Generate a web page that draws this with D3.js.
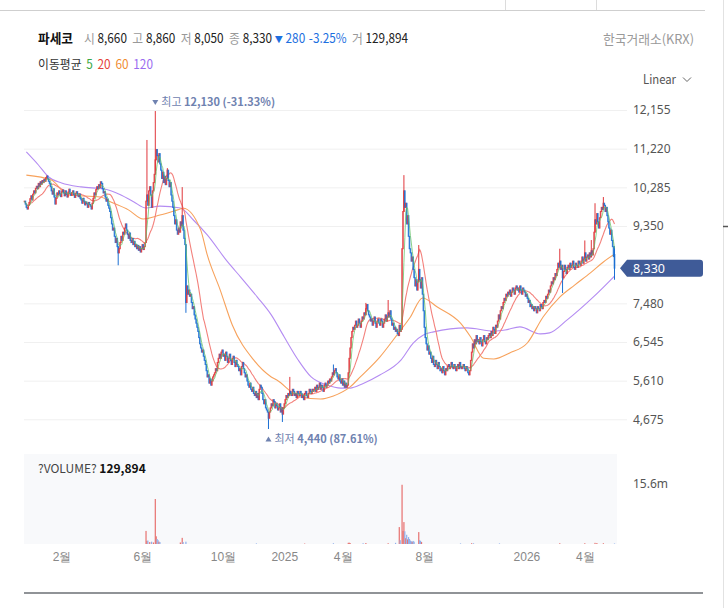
<!DOCTYPE html>
<html>
<head>
<meta charset="utf-8">
<script src="https://cdn.jsdelivr.net/npm/d3@7"></script>
<style>
  body { margin: 0; background: #fff; }
  svg { font-family: "Noto Sans CJK KR", "Noto Sans", sans-serif; }
</style>
</head>
<body>
<svg id="chart" width="728" height="608"></svg>
<script>
// daily closes, oldest first, last bar = 2026-05-15
var closes = [
  9950, 9880, 9800, 9760, 9850, 9920, 10010,
  10080, 9980, 10120, 10200, 10150, 10260, 10310, 10250,
  10380, 10300, 10420, 10360, 10450, 10400, 10480, 10430, 10520,
  10560, 10490, 10430, 10380, 10300,
  10200, 10120, 10250, 10050, 9880,
  10020, 10150, 10100, 10200, 10130, 10060, 10180, 10220,
  10150, 10080, 10200, 10120, 10050, 10170, 10240, 10130, 10090, 10160, 10200, 10110, 10040, 10130, 10180, 10100, 10060, 10120, 10020,
  9980, 9900, 10020, 9950, 9860, 9930, 9890, 9800, 9920, 9870, 9830, 9760, 9900,
  10020, 10150, 10100, 10230, 10300, 10250, 10350, 10280, 10420, 10380,
  10250, 10150, 10180, 10050, 9950, 10000, 9850, 9780, 9700,
  9550, 9400, 9250, 9300, 9100, 8950, 9050, 8850, 8700,
  8800, 8950, 9100, 9000, 9200, 9150, 9300, 9400,
  9250, 9150, 9050, 9180, 9000, 8950, 9050, 8900, 8980, 8850, 8900,
  8800, 8880, 8760, 8850, 8720, 8800, 8900, 8780, 8850, 8950,
  9950, 10100, 9850, 10200, 10300, 10100, 9800, 10200, 10400, 10600, 10950,
  11200, 11050, 10900, 11100, 10850,
  10700, 10500, 10650, 10400, 10550, 10350,
  10500, 10700, 10450, 10300, 10400,
  10100, 9950, 9800,
  9600, 9400, 9500, 9250, 9150, 9300,
  9200, 9450, 9350, 9600, 9250,
  9050, 8900,
  7500, 7900, 7700, 7800, 7650, 7700,
  7500, 7350, 7400, 7200, 7100, 7000, 6900, 6800,
  6650, 6500, 6400, 6300, 6350, 6200, 6100, 6000,
  5850, 5700, 5750, 5550, 5650, 5500, 5600,
  5700, 5750, 5800, 5900, 5850, 6050, 6150,
  6250, 6150, 6300, 6350, 6200,
  6250, 6100, 6300, 6200, 6050, 6150, 6250, 6100, 6000, 6150, 6200, 6050, 5950, 6100, 6000,
  5950, 5850, 5900, 5750, 5950, 6050, 5900, 5800, 5700, 5750, 5600,
  5500, 5450, 5550, 5400, 5350, 5450, 5300,
  5250, 5350, 5200, 5300, 5150, 5400, 5500,
  5450, 5300, 5150, 5050, 5150, 4950, 4900, 4850,
  4700, 4850, 4950,
  5050, 5000, 5150, 5100, 4950, 5050, 5000,
  4900, 4950, 5050, 4850, 4950, 4800, 4950,
  5050, 5150, 5250, 5200, 5300, 5250, 5350,
  5300, 5250, 5400, 5350, 5250, 5300, 5200, 5350, 5300, 5250, 5350,
  5300, 5200, 5250, 5150, 5300, 5350, 5250, 5200, 5300, 5400, 5350, 5300, 5400, 5350,
  5400, 5450, 5350, 5500, 5400, 5450, 5550, 5400, 5500, 5450, 5350, 5500, 5550, 5450, 5500,
  5600, 5550, 5650, 5600,
  5700, 5800, 5750, 5850, 5900, 5800, 5700,
  5650, 5750, 5600, 5550, 5650, 5500, 5600, 5450, 5550, 5450, 5500,
  5800, 6150, 6400, 6650, 6800, 6900,
  6850, 6950, 7050, 6900, 6950, 7100, 7000, 6900, 7050, 7150, 7100,
  7250, 7200, 7350, 7450, 7300, 7200, 7150, 7050,
  7100, 6950, 7050, 7150, 7000, 6900, 7050, 7100, 7000, 6950, 7100, 7050, 6900, 7000,
  7100, 7200, 7050, 7150, 7250, 7150, 7300, 7100, 6950, 7000, 6850, 6900, 6800, 6850,
  6750, 6700, 6950, 6800, 6850,
  8800, 9700, 10200, 9800, 9900, 9400, 9600, 9100, 8800,
  8700, 8500, 8600, 8300,
  8100, 7900, 8050, 7800, 8000,
  8300, 8050, 7850, 8100, 7700,
  7300, 6900, 6650,
  6500, 6350, 6450, 6250, 6300,
  6150, 6050, 6200, 6000, 5950, 6100, 6000, 5900, 6050, 5950, 5850,
  5900, 5800, 5950, 5850, 5750, 5900, 5850, 5950,
  6000, 5900, 5950, 6050, 5950, 5900, 6000, 5950, 5850, 5950, 6000, 5900, 6050, 5950, 5900, 5950, 6000, 5900, 5850, 5950, 5900, 5800, 5750, 5850,
  6100, 6300, 6500, 6400, 6600, 6500, 6700, 6550,
  6600, 6500, 6650, 6550, 6450, 6600, 6700, 6550, 6500, 6650, 6600, 6700, 6750, 6650,
  6800, 6700, 6900, 6850, 6750, 6950, 6900,
  7050, 7200, 7100, 7300, 7400, 7350, 7500, 7600, 7550, 7700, 7650,
  7750, 7700, 7800, 7650, 7750, 7850, 7800, 7700, 7850, 7900, 7800,
  7850, 7750, 7900, 7800, 7700, 7850, 7800, 7750, 7650, 7700, 7600,
  7500, 7550, 7400, 7450, 7350, 7400,
  7300, 7400, 7350, 7250, 7400, 7350, 7300, 7450, 7400, 7350, 7500,
  7550, 7500, 7650, 7600, 7700, 7800, 7750, 7900,
  8000, 7950, 8100, 8050, 8200, 8150, 8300,
  8450, 8350, 8500, 8300, 8400, 8100,
  8250, 8400, 8300, 8200, 8350,
  8400, 8300, 8450, 8350, 8400, 8500, 8350, 8300, 8450, 8400, 8350, 8500, 8450, 8400,
  8500, 8600, 8450, 8550, 8700, 8500, 8600, 8650, 8550, 8700, 8600, 8750, 8650, 8800,
  9200, 9500, 9400, 9650,
  9450, 9300, 9550,
  9700, 9800, 9750, 9900, 9850, 9700, 9800, 9600, 9450,
  9300, 9150, 9250, 9000,
  8850, 8610,
  8330
];

// wick extremes that stick out of the bodies: [bar index, price]
var highMarks = [[132, 11430], [141, 12130], [154, 10750], [170, 10290], [286, 5700], [333, 6000],
  [368, 7490], [392, 7560], [409, 10580], [425, 8890], [577, 8800], [604, 9000], [611, 9010],
  [615, 9900], [624, 10050], [636, 8860]];
var lowMarks = [[101, 8400], [174, 7250], [263, 4440], [278, 4610], [580, 7730], [636, 8050]];
var openMarks = [[636, 8660]];

// traded volume on days where a bar is visible: [bar index, shares]
var volumes = [[131, 3.4e6], [132, 0.8e6], [133, 0.9e6], [135, 0.5e6], [137, 0.6e6], [139, 0.4e6],
  [141, 11.7e6], [142, 2.0e6], [143, 1.3e6], [144, 1.0e6], [145, 0.6e6], [146, 0.5e6],
  [168, 0.4e6], [170, 1.6e6], [171, 0.5e6], [174, 0.6e6], [250, 0.15e6], [302, 0.12e6],
  [333, 0.2e6], [349, 0.3e6], [350, 0.35e6], [351, 0.25e6], [365, 0.2e6], [368, 0.25e6],
  [392, 0.2e6], [400, 0.3e6], [404, 4.4e6], [405, 1.0e6], [407, 15.4e6], [408, 3.4e6],
  [409, 5.7e6], [410, 3.3e6], [411, 1.5e6], [412, 2.4e6], [413, 1.2e6], [414, 1.8e6],
  [415, 1.3e6], [416, 0.9e6], [417, 0.7e6], [418, 0.6e6], [419, 0.8e6], [420, 0.6e6],
  [425, 3.1e6], [426, 1.0e6], [427, 0.8e6], [428, 0.5e6], [470, 0.15e6], [482, 0.2e6],
  [484, 0.18e6], [512, 0.15e6], [577, 0.2e6], [604, 0.2e6], [615, 0.3e6], [617, 0.25e6],
  [624, 0.2e6], [636, 129894]];

// 60 / 120 day averages
var ma60Pts = [["2023-12-11", 10580], ["2024-01-17", 10460], ["2024-02-12", 10100], ["2024-04-01", 10050],
  ["2024-04-16", 9930], ["2024-05-13", 9740], ["2024-06-04", 9520], ["2024-06-28", 9615],
  ["2024-07-25", 9740], ["2024-08-02", 9780], ["2024-08-29", 9250], ["2024-09-09", 8650],
  ["2024-09-27", 7800], ["2024-10-16", 6955], ["2024-11-18", 6110], ["2024-12-13", 5700],
  ["2024-12-23", 5625], ["2025-01-27", 5215], ["2025-02-26", 5165], ["2025-03-18", 5240],
  ["2025-04-11", 5460], ["2025-04-28", 5700], ["2025-05-27", 6180], ["2025-06-24", 6760],
  ["2025-07-11", 7150], ["2025-07-30", 7610], ["2025-08-21", 7390], ["2025-09-25", 7000],
  ["2025-10-10", 6665], ["2025-10-30", 6150], ["2025-11-14", 6135], ["2025-12-09", 6280],
  ["2026-01-05", 6520], ["2026-01-28", 7150], ["2026-02-23", 7630], ["2026-03-17", 7920],
  ["2026-04-09", 8215], ["2026-04-29", 8480], ["2026-05-15", 8670]];
var ma120Pts = [["2023-12-11", 11140], ["2023-12-28", 10825], ["2024-01-12", 10535], ["2024-02-01", 10390],
  ["2024-03-01", 10295], ["2024-04-05", 10245], ["2024-05-01", 10100], ["2024-05-21", 9930],
  ["2024-06-07", 9785], ["2024-06-28", 9830], ["2024-07-30", 9785], ["2024-08-19", 9495],
  ["2024-09-09", 9135], ["2024-10-09", 8480], ["2024-10-29", 8115], ["2024-11-22", 7630],
  ["2024-12-13", 7200], ["2025-01-02", 6665], ["2025-01-23", 6110], ["2025-02-12", 5700],
  ["2025-03-07", 5505], ["2025-03-28", 5430], ["2025-04-11", 5430], ["2025-04-30", 5530],
  ["2025-05-27", 5745], ["2025-06-27", 6110], ["2025-07-16", 6520], ["2025-07-31", 6715],
  ["2025-08-15", 6790], ["2025-10-06", 6885], ["2025-11-14", 6810], ["2025-12-02", 6835],
  ["2025-12-24", 6910], ["2026-01-23", 6740], ["2026-02-06", 6765], ["2026-03-05", 7080],
  ["2026-04-14", 7630], ["2026-05-15", 8140]];

var yTicks = [12155, 11220, 10285, 9350, 8415, 7480, 6545, 5610, 4675];
var volTicks = [15.6e6];
var xTicks = [["2024-02-01", "2월"], ["2024-06-03", "6월"], ["2024-10-02", "10월"], ["2025-01-02", "2025"],
  ["2025-04-01", "4월"], ["2025-08-01", "8월"], ["2026-01-02", "2026"], ["2026-04-01", "4월"]];

var upColor = "#e0363b", downColor = "#1b6fd3";
var maColors = { 5: "#63c266", 20: "#f3817c", 60: "#f7a25c", 120: "#b48cf2" };
var legendColors = { 5: "#3aa845", 20: "#e5413a", 60: "#f08c32", 120: "#9a6cf0" };

// ---- trading days (weekdays ending at the last bar) ----
var parse = d3.timeParse("%Y-%m-%d");
var n = closes.length;
var dates = [];
var cur = new Date(2026, 4, 15);
while (dates.length < n) {
  var wd = cur.getDay();
  if (wd !== 0 && wd !== 6) dates.unshift(new Date(cur));
  cur.setDate(cur.getDate() - 1);
}
var dateNums = dates.map(Number);
function idxOf(s) {
  var i = d3.bisectLeft(dateNums, +parse(s));
  return Math.min(i, n - 1);
}

var opens = {}; openMarks.forEach(function(m) { opens[m[0]] = m[1]; });
var his = {}; highMarks.forEach(function(m) { his[m[0]] = m[1]; });
var los = {}; lowMarks.forEach(function(m) { los[m[0]] = m[1]; });

var bars = closes.map(function(c, i) {
  var o = opens[i] != null ? opens[i] : (i ? closes[i - 1] : c);
  return {
    i: i, open: o, close: c,
    high: Math.max(o, c, his[i] || 0),
    low: Math.min(o, c, los[i] || Infinity),
    up: c >= o
  };
});

function movingAvg(len) {
  return closes.map(function(c, i) {
    var s = Math.max(0, i - len + 1);
    return { i: i, v: d3.mean(closes.slice(s, i + 1)) };
  });
}
function pct(v) { return (v >= 0 ? "" : "-") + Math.abs(v * 100).toFixed(2) + "%"; }

// ---- scales ----
var x = d3.scaleLinear().domain([0, n - 1]).range([24.5, 614.5]);
var y = d3.scaleLinear().domain([4675, 12155]).range([419.3, 110]);
var yv = d3.scaleLinear().domain([0, 15.6e6]).range([544, 484]);

var svg = d3.select("#chart");

// page chrome
svg.append("line").attr("x1", 0).attr("x2", 705).attr("y1", 10.5).attr("y2", 10.5).attr("stroke", "#cfcfcf");
[505.5, 596.5].forEach(function(px) {
  svg.append("line").attr("x1", px).attr("x2", px).attr("y1", 0).attr("y2", 10).attr("stroke", "#dcdcdc");
});
svg.append("line").attr("x1", 723.5).attr("x2", 723.5).attr("y1", 0).attr("y2", 608).attr("stroke", "#e2e2e2");
svg.append("line").attr("x1", 723).attr("x2", 728).attr("y1", 226.5).attr("y2", 226.5).attr("stroke", "#555").attr("stroke-width", 1.5);

// ---- header ----
var last = bars[n - 1];
var prevClose = closes[n - 2];
var chg = last.close - prevClose;
var fmt = d3.format(",");
var lastVol = volumes[volumes.length - 1][1];

svg.append("text").attr("x", 38).attr("y", 43).attr("font-size", 13).attr("font-weight", "bold")
  .attr("fill", "#111").attr("textLength", 35).attr("lengthAdjust", "spacingAndGlyphs").text("파세코");

var head = svg.append("text").attr("x", 84).attr("y", 43).attr("font-size", 13)
  .attr("textLength", 324).attr("lengthAdjust", "spacingAndGlyphs");
[["시", last.open], ["고", last.high], ["저", last.low], ["종", last.close]].forEach(function(p, k) {
  head.append("tspan").attr("dx", k ? 6 : 0).attr("fill", "#999").text(p[0]);
  head.append("tspan").attr("dx", 3).attr("fill", "#222").text(fmt(p[1]));
});
head.append("tspan").attr("dx", 3).attr("fill", "#1d6fe0").attr("font-size", 9).text(chg < 0 ? "▼" : "▲");
head.append("tspan").attr("dx", 3).attr("fill", "#1d6fe0").text(fmt(Math.abs(chg)));
head.append("tspan").attr("dx", 4).attr("fill", "#1d6fe0").text(pct(chg / prevClose));
head.append("tspan").attr("dx", 6).attr("fill", "#999").text("거");
head.append("tspan").attr("dx", 3).attr("fill", "#222").text(fmt(lastVol));

svg.append("text").attr("x", 694).attr("y", 44).attr("text-anchor", "end").attr("font-size", 13)
  .attr("fill", "#999").attr("textLength", 91).attr("lengthAdjust", "spacingAndGlyphs").text("한국거래소(KRX)");

var maLeg = svg.append("text").attr("x", 38).attr("y", 69).attr("font-size", 12.5)
  .attr("textLength", 115).attr("lengthAdjust", "spacingAndGlyphs");
maLeg.append("tspan").attr("fill", "#333").text("이동평균");
[5, 20, 60, 120].forEach(function(k) {
  maLeg.append("tspan").attr("dx", 5).attr("fill", legendColors[k]).text(k);
});

svg.append("text").attr("x", 643).attr("y", 83.5).attr("font-size", 12.5).attr("fill", "#555")
  .attr("textLength", 33).attr("lengthAdjust", "spacingAndGlyphs").text("Linear");
svg.append("path").attr("d", "M683,77.5 L687,81.5 L691,77.5").attr("fill", "none").attr("stroke", "#666");

// ---- price grid and axis ----
svg.append("g")
  .attr("transform", "translate(24,0)")
  .call(d3.axisRight(y).tickValues(yTicks).tickSize(603).tickFormat(""))
  .call(function(g) { g.select(".domain").remove(); })
  .call(function(g) { g.selectAll(".tick line").attr("stroke", "#f0f0f0"); });

// the tick hidden behind the last-price tag gets no label
svg.append("g")
  .attr("transform", "translate(627,0)")
  .call(d3.axisRight(y).tickValues(yTicks.filter(function(t) { return Math.abs(y(t) - y(closes[n - 1])) > 12; }))
    .tickSize(0).tickPadding(6).tickFormat(fmt))
  .call(function(g) { g.select(".domain").remove(); })
  .call(function(g) {
    g.selectAll("text").attr("font-size", 12).attr("fill", "#555")
      .attr("font-family", "'Noto Sans', sans-serif");
  });

// ---- moving averages ----
var lineIdx = d3.line().x(function(d) { return x(d.i); }).y(function(d) { return y(d.v); });
var linePts = d3.line().x(function(d) { return x(idxOf(d[0])); }).y(function(d) { return y(d[1]); })
  .curve(d3.curveMonotoneX);

var maG = svg.append("g").attr("fill", "none").attr("stroke-width", 1.1);
maG.append("path").attr("d", linePts(ma120Pts)).attr("stroke", maColors[120]);
maG.append("path").attr("d", linePts(ma60Pts)).attr("stroke", maColors[60]);
maG.append("path").attr("d", lineIdx(movingAvg(20))).attr("stroke", maColors[20]);

// ---- candles ----
var bw = 1.6;
var cg = svg.append("g");
cg.selectAll("line").data(bars.filter(function(b) {
    return b.high > Math.max(b.open, b.close) || b.low < Math.min(b.open, b.close);
  }))
  .join("line")
  .attr("x1", function(d) { return x(d.i); })
  .attr("x2", function(d) { return x(d.i); })
  .attr("y1", function(d) { return y(d.high); })
  .attr("y2", function(d) { return y(d.low); })
  .attr("stroke", function(d) { return d.up ? upColor : downColor; })
  .attr("stroke-width", 1);
cg.selectAll("rect").data(bars)
  .join("rect")
  .attr("x", function(d) { return x(d.i) - bw / 2; })
  .attr("width", bw)
  .attr("y", function(d) { return y(Math.max(d.open, d.close)) - 0.5; })
  .attr("height", function(d) { return Math.max(1.5, Math.abs(y(d.open) - y(d.close)) + 1); })
  .attr("fill", function(d) { return d.up ? upColor : downColor; })
  .attr("fill-opacity", 0.9);

svg.append("path").attr("d", lineIdx(movingAvg(5))).attr("fill", "none")
  .attr("stroke", maColors[5]).attr("stroke-width", 1).attr("opacity", 0.75);

// ---- max / min notes ----
var maxBar = bars.reduce(function(a, b) { return b.high > a.high ? b : a; });
var minBar = bars.reduce(function(a, b) { return b.low < a.low ? b : a; });
var noteColor = "#6f82b0";
var mx = x(maxBar.i), my = y(maxBar.high) - 5;
svg.append("path").attr("d", "M" + (mx - 3) + "," + (my - 6) + " l6,0 l-3,5 Z").attr("fill", noteColor);
var tMax = svg.append("text").attr("x", mx + 6).attr("y", my).attr("font-size", 11).attr("fill", noteColor);
tMax.append("tspan").text("최고 ");
tMax.append("tspan").attr("font-weight", 600)
  .text(fmt(maxBar.high) + " (" + pct((last.close - maxBar.high) / maxBar.high) + ")");

var nx = x(minBar.i), ny = y(minBar.low) + 14;
svg.append("path").attr("d", "M" + (nx - 3) + "," + (ny - 1.5) + " l6,0 l-3,-5 Z").attr("fill", noteColor);
var tMin = svg.append("text").attr("x", nx + 6).attr("y", ny).attr("font-size", 11).attr("fill", noteColor);
tMin.append("tspan").text("최저 ");
tMin.append("tspan").attr("font-weight", 600)
  .text(fmt(minBar.low) + " (" + pct((last.close - minBar.low) / minBar.low) + ")");

// ---- last price tag ----
var ty = y(last.close);
svg.append("path")
  .attr("d", "M620," + ty + " L627," + (ty - 8.5) + " L700," + (ty - 8.5) + " Q703," + (ty - 8.5) + " 703," + (ty - 5.5) +
    " L703," + (ty + 5.5) + " Q703," + (ty + 8.5) + " 700," + (ty + 8.5) + " L627," + (ty + 8.5) + " Z")
  .attr("fill", "#3f5b98");
svg.append("text").attr("x", 633).attr("y", ty).attr("dy", "0.35em").attr("font-size", 12.5)
  .attr("font-family", "'Noto Sans', sans-serif").attr("fill", "#fff").text(fmt(last.close));

// ---- volume panel ----
svg.append("rect").attr("x", 24).attr("y", 454).attr("width", 593).attr("height", 90).attr("fill", "#f8f9fb");
var vt = svg.append("text").attr("x", 38).attr("y", 473).attr("font-size", 12);
vt.append("tspan").attr("fill", "#444").text("?VOLUME? ");
vt.append("tspan").attr("fill", "#111").attr("font-weight", "bold").text(fmt(lastVol));

svg.append("g").selectAll("rect").data(volumes)
  .join("rect")
  .attr("x", function(d) { return x(d[0]) - 0.6; })
  .attr("width", 1.2)
  .attr("y", function(d) { return yv(d[1]); })
  .attr("height", function(d) { return yv(0) - yv(d[1]); })
  .attr("fill", function(d) { return bars[d[0]].up ? "#e7716f" : "#8fb0ec"; });

svg.append("g")
  .attr("transform", "translate(627,0)")
  .call(d3.axisRight(yv).tickValues(volTicks).tickSize(0).tickPadding(6)
    .tickFormat(function(d) { return (d / 1e6).toFixed(1) + "m"; }))
  .call(function(g) { g.select(".domain").remove(); })
  .call(function(g) {
    g.selectAll("text").attr("font-size", 12).attr("fill", "#555")
      .attr("font-family", "'Noto Sans', sans-serif");
  });

// ---- time axis ----
svg.append("g")
  .attr("transform", "translate(0,544)")
  .call(d3.axisBottom(x)
    .tickValues(xTicks.map(function(t) { return idxOf(t[0]); }))
    .tickSize(0).tickPadding(8)
    .tickFormat(function(d, i) { return xTicks[i][1]; }))
  .call(function(g) { g.select(".domain").remove(); })
  .call(function(g) { g.selectAll("text").attr("font-size", 12).attr("fill", "#888"); });

svg.append("line").attr("x1", 24).attr("x2", 703).attr("y1", 593).attr("y2", 593)
  .attr("stroke", "#6b6f75").attr("stroke-width", 1.5);
</script>
</body>
</html>
